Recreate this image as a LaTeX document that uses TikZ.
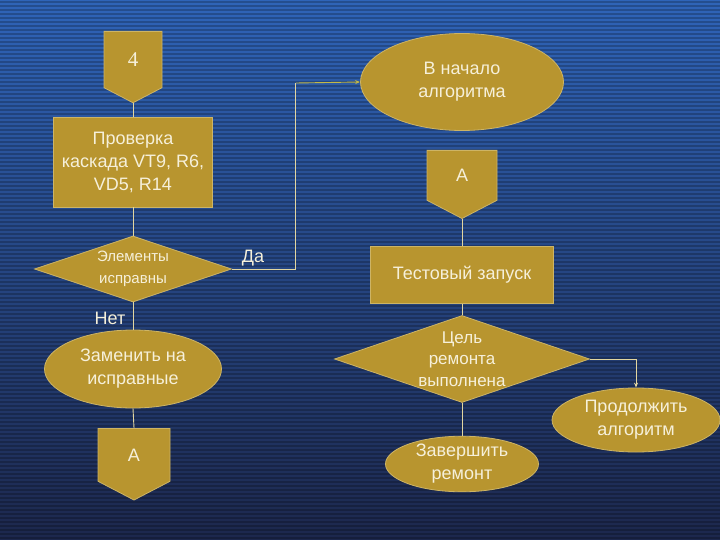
\documentclass[tikz,border=0pt]{standalone}
\usepackage{fontspec}
\setmainfont{Liberation Sans}
\newfontfamily\digitfont{Liberation Serif}
\usetikzlibrary{shapes.geometric,shapes.symbols,arrows.meta}
\definecolor{boxgold}{HTML}{B8952F}
\definecolor{boxedge}{HTML}{CDB465}
\definecolor{flowline}{HTML}{E2D6A0}
\definecolor{yesline}{HTML}{C2B848}
\definecolor{boxtext}{HTML}{F6F0DA}
\definecolor{bgtop}{HTML}{2F64B8}
\definecolor{bgmid}{HTML}{233C80}
\definecolor{bgbot}{HTML}{1C274C}

\tikzset{
  box/.style={draw=boxedge, fill=boxgold, text=boxtext, line width=0.8pt,
    align=center, inner sep=0pt, font=\fontsize{18}{23}\selectfont},
  proc/.style={box, rectangle},
  term/.style={box, ellipse},
  choice/.style={box, diamond},
  offpage/.style={box, signal, signal to=south, signal pointer angle=125},
  flow/.style={draw=flowline, line width=0.9pt},
  tag/.style={text=boxtext, font=\fontsize{18}{20}\selectfont},
}

\begin{document}
\begin{tikzpicture}[x=1pt, y=-1pt, >={Stealth[length=5pt,width=4pt]}]
  % background
  \useasboundingbox (0,0) rectangle (720,540);
  \shade[top color=bgtop, middle color=bgmid, bottom color=bgbot] (0,0) rectangle (720,540);
  \foreach \y in {2,6,...,538}
    \draw[black, opacity=0.22, line width=1.6pt] (0,\y) -- (720,\y);

  % left column
  \node[offpage, minimum width=58pt, minimum height=59pt, anchor=north,
    font=\digitfont\fontsize{21}{22}\selectfont] (n4) at (133,31) {4};
  \node[proc, minimum width=159pt, minimum height=90pt] (check) at (133,162)
    {Проверка\\каскада VT9, R6,\\VD5, R14};
  \node[choice, aspect=3, minimum width=197pt, minimum height=66pt,
    font=\fontsize{15}{22}\selectfont] (ok) at (133,269) {Элементы\\исправны};
  \node[term, minimum width=177pt, minimum height=78pt] (swap) at (133,369)
    {Заменить на\\исправные};
  \node[offpage, minimum width=72pt, minimum height=56pt, anchor=north] (goA) at (134,428) {A};
  \node[tag] (yes) at (253,258) {Да};
  \node[tag] (no) at (110,318) {Нет};

  % right column
  \node[term, minimum width=203pt, minimum height=97pt] (restart) at (462,82)
    {В начало\\алгоритма};
  \node[offpage, minimum width=70pt, minimum height=53pt, anchor=north] (fromA) at (462,150) {A};
  \node[proc, minimum width=183pt, minimum height=57pt] (test) at (462,275) {Тестовый запуск};
  \node[choice, aspect=2.9, minimum width=255pt, minimum height=87pt,
    font=\fontsize{17}{21.5}\selectfont] (done) at (462,359) {Цель\\ремонта\\выполнена};
  \node[term, minimum width=168pt, minimum height=64pt] (cont) at (636,420)
    {Продолжить\\алгоритм};
  \node[term, minimum width=153pt, minimum height=55pt] (finish) at (462,464)
    {Завершить\\ремонт};

  % connectors
  \draw[flow] (n4.south) -- (check.north);
  \draw[flow] (check.south) -- (ok.north);
  \draw[flow] (ok.east) -- ++(64,0) -- ++(0,-186);
  \draw[flow, draw=yesline, ->] (296,83) -- (restart.west);
  \draw[flow] (ok.south) -- (swap.north);
  \draw[flow] (swap.south) -- (goA.north);
  \draw[flow] (fromA.south) -- (test.north);
  \draw[flow] (test.south) -- (done.north);
  \draw[flow, ->] (done.east) -| (cont.north);
  \draw[flow] (done.south) -- (finish.north);
\end{tikzpicture}
\end{document}
